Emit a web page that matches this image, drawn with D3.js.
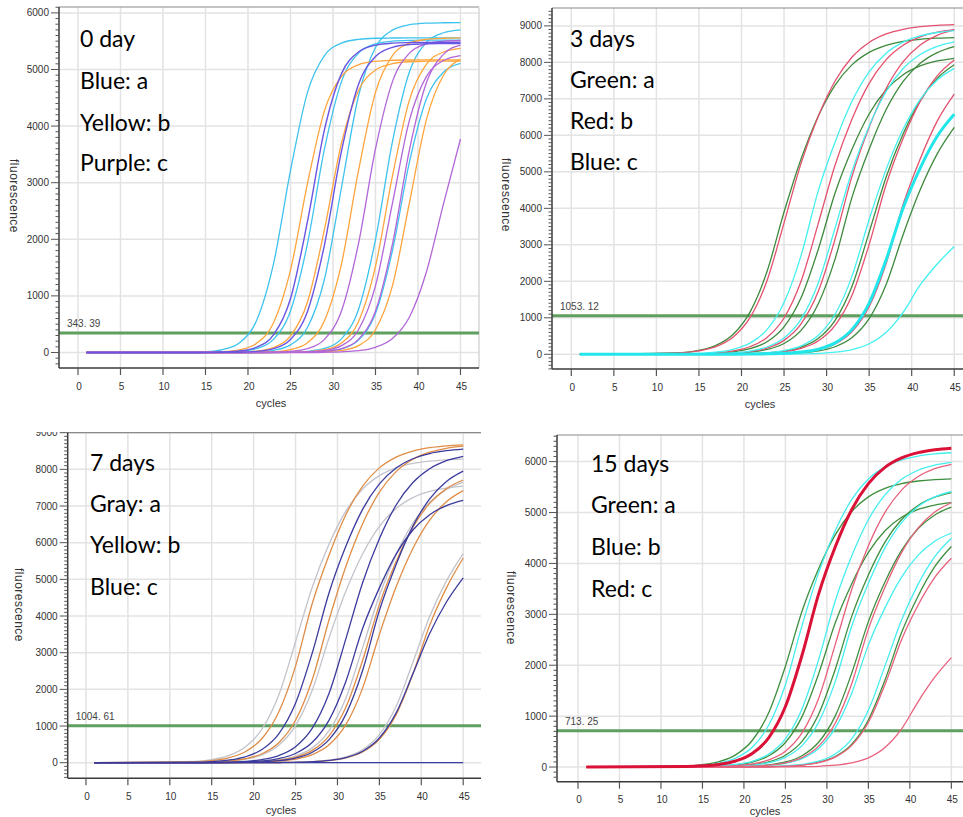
<!DOCTYPE html>
<html lang="en">
<head>
<meta charset="UTF-8">
<title>qPCR amplification curves</title>
<script src="https://d3js.org/d3.v7.min.js"></script>
<style>
  body { margin: 0; background: #fff; }
  svg { display: block; }
  .tick-label { font-family: "Liberation Sans", Arial, sans-serif; font-size: 10px; fill: #333; }
  .axis-title { font-family: "Liberation Sans", Arial, sans-serif; fill: #333; }
  .thr-label { font-family: "Liberation Sans", Arial, sans-serif; font-size: 10px; fill: #444; }
  .note { font-family: Lato, "Open Sans", sans-serif; font-size: 23px; fill: #000; }
</style>
</head>
<body>
<svg id="chart" width="963" height="817"></svg>
<script>
const cycles = [1, 13, 15, 17, 19, 21, 23, 25, 27, 29, 31, 33, 35, 37, 39, 41, 43, 45];

// ---- 0 day ----
const day0Threshold = 343.39;
const day0Blue = [
  [0,4,14,51,173,561,1565,3211,4596,5245,5466,5533,5552,5556,5558,5560,5560,5560],
  [0,0,2,6,20,68,232,734,1924,3596,4786,5288,5452,5500,5514,5518,5520,5520],
  [0,0,0,1,3,11,39,134,442,1298,2915,4532,5388,5696,5791,5819,5826,5829],
  [0,0,0,0,0,0,2,6,21,71,241,761,1994,3726,4959,5479,5649,5699],
  [0,0,0,0,0,0,0,2,5,19,64,218,688,1802,3368,4482,4952,5106]
];
const day0Yellow = [
  [0,1,4,13,47,161,522,1455,2986,4274,4877,5083,5145,5163,5168,5170,5170,5170],
  [0,0,0,2,7,25,87,292,892,2176,3700,4630,4990,5103,5137,5146,5149,5150],
  [0,0,0,0,1,4,14,51,173,561,1565,3211,4596,5245,5466,5533,5552,5558],
  [0,0,0,0,0,0,1,4,14,49,168,545,1520,3119,4464,5094,5309,5374],
  [0,0,0,0,0,0,0,1,3,10,36,122,402,1180,2650,4120,4898,5178]
];
const day0Purple = [
  [0,0,0,0,0,2,6,20,68,232,734,1924,3596,4786,5288,5452,5500,5514],
  [0,0,0,0,0,0,1,3,10,35,121,401,1176,2640,4104,4879,5159,5245],
  [0,0,0,0,0,0,0,2,6,20,68,232,732,1917,3583,4769,5268,5432],
  [0,0,0,0,0,0,0,0,0,4,12,33,92,246,628,1427,2627,3772]
];
// purple traces lying on top of blue ones (look violet)
const day0PurpleOverlap = [
  [0,0,2,8,27,93,311,950,2315,3937,4927,5310,5430,5466,5476,5479,5480,5480],
  [0,0,0,2,5,20,68,230,726,1903,3557,4734,5230,5392,5440,5455,5458,5460]
];

// ---- 3 days ----
const day3Threshold = 1053.12;
const day3Green = [
  [0,47,108,245,544,1157,2269,3898,5351,6517,7378,7938,8275,8467,8574,8632,8663,8680],
  [0,6,13,30,67,153,345,753,1547,2859,4420,5625,6585,7249,7662,7903,8038,8112],
  [0,2,5,11,25,58,132,297,655,1371,2614,4315,5622,6708,7482,7975,8267,8432],
  [0,0,1,3,7,16,37,85,193,431,931,1873,3341,4857,6043,6953,7561,7933],
  [0,0,0,1,2,4,7,18,40,91,207,458,975,1912,3285,4509,5491,6216]
];
const day3Red = [
  [0,40,92,208,465,1003,2018,3600,5232,6511,7490,8146,8546,8778,8907,8978,9016,9036],
  [0,8,17,40,91,207,461,994,2000,3568,5186,6453,7424,8074,8471,8701,8828,8898],
  [0,3,6,15,33,74,170,382,833,1711,3162,4889,6222,7284,8018,8475,8742,8891],
  [0,0,1,3,6,14,31,71,161,363,792,1628,3008,4652,5920,6931,7629,8064],
  [0,0,0,1,2,5,11,24,55,126,283,624,1306,2490,4110,5355,6389,7127]
];
const day3Blue = [
  [0,12,26,60,137,307,678,1419,2705,4465,5817,6941,7742,8252,8554,8725,8819,8870],
  [0,3,7,17,38,88,200,447,964,1940,3461,5030,6259,7201,7831,8216,8439,8563],
  [0,0,2,4,8,20,44,102,232,515,1096,2149,3692,5068,6173,6988,7518,7837],
  [0,0,0,0,0,1,2,5,11,25,58,131,288,604,1151,1900,2475,2954]
];
const day3BlueBold = [
  [0,0,0,1,2,5,12,27,61,139,313,683,1404,2594,4010,5104,5975,6577]
];

// ---- 7 days ----
const day7Threshold = 1004.61;
const day7Gray = [
  [0,37,84,191,426,919,1848,3298,4793,5964,6862,7463,7829,8042,8160,8224,8259,8278],
  [0,8,18,41,94,214,475,1011,1982,3406,4675,5693,6445,6934,7228,7396,7490,7541],
  [0,1,3,7,15,35,80,182,405,875,1759,3139,4562,5677,6531,7103,7452,7654],
  [0,0,0,0,1,3,6,13,30,70,159,354,764,1537,2741,3985,4958,5704]
];
const day7Yellow = [
  [0,25,58,133,299,660,1383,2635,4350,5667,6763,7543,8040,8334,8500,8592,8642,8669],
  [0,9,21,47,108,245,544,1157,2269,3898,5351,6517,7378,7938,8275,8467,8574,8632],
  [0,1,2,6,13,29,66,150,337,734,1510,2789,4312,5488,6425,7072,7475,7710],
  [0,0,2,4,8,19,42,97,220,488,1037,2034,3495,4798,5843,6614,7117,7419],
  [0,0,0,0,1,2,5,11,25,57,130,293,638,1311,2423,3746,4768,5582]
];
const day7Blue = [
  [0,14,31,71,161,362,789,1623,2998,4635,5900,6907,7602,8036,8289,8431,8508,8551],
  [0,3,7,16,37,86,196,436,941,1893,3377,4909,6108,7027,7642,8018,8236,8356],
  [0,2,4,10,21,49,112,252,556,1163,2217,3660,4768,5690,6346,6764,7012,7152],
  [0,1,2,5,11,24,56,127,286,630,1319,2514,4150,5407,6452,7196,7670,7951],
  [0,0,0,0,1,2,5,12,27,62,140,313,675,1358,2424,3523,4383,5043],
  [0,0,0,0,0,0,0,0,0,0,0,0,0,0,0,0,0,0]
];

// ---- 15 days ----
const day15Threshold = 713.25;
const day15Green = [
  [0,20,47,106,239,521,1072,1980,3062,3896,4562,5021,5307,5474,5568,5619,5648,5663],
  [0,4,8,19,43,98,221,482,991,1830,2830,3602,4216,4641,4906,5060,5147,5194],
  [0,2,4,9,20,45,103,232,505,1038,1917,2965,3773,4417,4862,5139,5301,5392],
  [0,1,2,4,8,19,43,99,223,487,1000,1848,2857,3636,4256,4685,4952,5108],
  [0,0,0,1,1,3,8,18,40,92,206,450,925,1708,2641,3361,3935,4332]
];
const day15Blue = [
  [0,15,33,77,175,388,825,1617,2778,3814,4644,5258,5657,5897,6034,6110,6152,6174],
  [0,4,10,22,50,113,255,555,1142,2109,3261,4150,4859,5348,5653,5831,5931,5985],
  [0,1,3,7,16,37,85,191,420,880,1678,2770,3609,4306,4803,5120,5307,5413],
  [0,0,1,3,6,14,32,73,165,364,763,1454,2400,3127,3731,4162,4436,4598],
  [0,0,0,1,2,4,10,22,51,115,257,554,1114,1987,2888,3593,4134,4496]
];
const day15Red = [
  [0,2,5,11,27,61,139,310,670,1347,2404,3494,4348,5002,5440,5707,5862,5948],
  [0,1,1,3,7,16,36,83,186,411,861,1642,2710,3531,4213,4699,5009,5192],
  [0,0,0,1,1,3,7,17,38,87,195,426,876,1618,2501,3183,3726,4102],
  [0,0,0,0,0,0,1,3,7,15,36,81,179,382,748,1286,1765,2150]
];
const day15RedBold = [
  [0,10,23,52,118,265,578,1189,2196,3396,4322,5060,5569,5887,6072,6176,6233,6264]
];

// ---- panel layout (pixels) ----
const panels = [
  {
    clip: [0, 0, 481, 413], plot: { left: 59, top: 7, right: 479, bottom: 368 },
    xDomain: [-2.235, 47.18], yDomain: [-274, 6104], yMaxTick: 6000, rightBorder: true,
    threshold: day0Threshold, thresholdText: "343. 39",
    notes: ["0 day", "Blue: a", "Yellow: b", "Purple: c"], noteX: 80, noteY: [47, 89, 131, 171],
    yTitle: [14, 196], xTitle: [271, 403],
    series: [
      { data: day0Blue, color: "#3ec3ee", width: 1.3 },
      { data: day0Yellow, color: "#ffa53d", width: 1.3 },
      { data: day0Purple, color: "#b266d8", width: 1.3 },
      { data: day0PurpleOverlap, color: "#6a55e2", width: 1.4 }
    ]
  },
  {
    clip: [483, 0, 480, 413], plot: { left: 552, top: 8, right: 975, bottom: 369 },
    xDomain: [-2.268, 47.44], yDomain: [-403, 9490], yMaxTick: 9000,
    threshold: day3Threshold, thresholdText: "1053. 12",
    notes: ["3 days", "Green: a", "Red: b", "Blue: c"], noteX: 570, noteY: [47, 88, 129, 170],
    yTitle: [506, 195], xTitle: [760, 404],
    series: [
      { data: day3Green, color: "#3d8a3d", width: 1.3 },
      { data: day3Red, color: "#e4516f", width: 1.3 },
      { data: day3Blue, color: "#44f0f0", width: 1.3 },
      { data: day3BlueBold, color: "#22e6ea", width: 3 }
    ]
  },
  {
    clip: [0, 432, 481, 385], plot: { left: 67.7, top: 432.6, right: 485, bottom: 778.3 },
    xDomain: [-2.18, 47.6], yDomain: [-425, 9002], yMaxTick: 9000,
    threshold: day7Threshold, thresholdText: "1004. 61",
    notes: ["7 days", "Gray: a", "Yellow: b", "Blue: c"], noteX: 90, noteY: [471, 512, 553, 595],
    yTitle: [19, 605], xTitle: [281, 810],
    series: [
      { data: day7Gray, color: "#c3c3cc", width: 1.3 },
      { data: day7Yellow, color: "#df8d47", width: 1.3 },
      { data: day7Blue, color: "#3b3b9e", width: 1.3 }
    ]
  },
  {
    clip: [483, 420, 480, 397], plot: { left: 557, top: 435, right: 975, bottom: 781.7 },
    xDomain: [-2.53, 47.85], yDomain: [-288, 6523], yMaxTick: 6000,
    threshold: day15Threshold, thresholdText: "713. 25",
    notes: ["15 days", "Green: a", "Blue: b", "Red: c"], noteX: 591, noteY: [472, 513, 555, 597],
    yTitle: [511, 608], xTitle: [765, 811],
    series: [
      { data: day15Green, color: "#3e8e3e", width: 1.3 },
      { data: day15Blue, color: "#44eef0", width: 1.3 },
      { data: day15Red, color: "#e8607c", width: 1.3 },
      { data: day15RedBold, color: "#da1238", width: 3 }
    ]
  }
];

const svg = d3.select("#chart");
svg.append("rect").attr("width", 963).attr("height", 817).attr("fill", "#fff");

panels.forEach((p, pi) => {
  const clipId = "panel-clip-" + pi;
  svg.append("clipPath").attr("id", clipId)
    .append("rect")
    .attr("x", p.clip[0]).attr("y", p.clip[1])
    .attr("width", p.clip[2]).attr("height", p.clip[3]);

  const g = svg.append("g").attr("clip-path", `url(#${clipId})`);
  const pl = p.plot;

  const x = d3.scaleLinear().domain(p.xDomain).range([pl.left, pl.right]);
  const y = d3.scaleLinear().domain(p.yDomain).range([pl.bottom, pl.top]);

  const xTicks = d3.range(0, 46, 5);
  const yTicks = d3.range(0, p.yMaxTick + 1, 1000);
  const yMinor = d3.range(Math.ceil(p.yDomain[0] / 100) * 100, p.yDomain[1], 100);

  // grid
  g.append("g").selectAll("line").data(xTicks).join("line")
    .attr("x1", d => x(d)).attr("x2", d => x(d))
    .attr("y1", pl.top).attr("y2", pl.bottom)
    .attr("stroke", "#e3e3e3").attr("stroke-width", 1.5);
  g.append("g").selectAll("line").data(yTicks).join("line")
    .attr("x1", pl.left).attr("x2", pl.right)
    .attr("y1", d => y(d)).attr("y2", d => y(d))
    .attr("stroke", "#e3e3e3").attr("stroke-width", 1.5);

  // frame top / right
  g.append("line").attr("x1", pl.left).attr("x2", pl.right)
    .attr("y1", pl.top).attr("y2", pl.top)
    .attr("stroke", "#8a8a8a").attr("stroke-width", 1.2);
  if (p.rightBorder) {
    g.append("line").attr("x1", pl.right).attr("x2", pl.right)
      .attr("y1", pl.top).attr("y2", pl.bottom)
      .attr("stroke", "#d6d6d6").attr("stroke-width", 1.5);
  }

  // threshold
  g.append("line")
    .attr("x1", pl.left).attr("x2", pl.right)
    .attr("y1", y(p.threshold)).attr("y2", y(p.threshold))
    .attr("stroke", "#5f9f5f").attr("stroke-width", 3);
  g.append("text").attr("class", "thr-label")
    .attr("x", pl.left + 8).attr("y", y(p.threshold) - 6)
    .text(p.thresholdText);

  // amplification curves
  const line = d3.line()
    .x((d, i) => x(cycles[i]))
    .y(d => y(d))
    .curve(d3.curveMonotoneX);
  p.series.forEach(s => {
    g.append("g").selectAll("path").data(s.data).join("path")
      .attr("d", line)
      .attr("fill", "none")
      .attr("stroke", s.color)
      .attr("stroke-width", s.width);
  });

  // y axis
  g.append("line").attr("x1", pl.left).attr("x2", pl.left)
    .attr("y1", pl.top).attr("y2", pl.bottom)
    .attr("stroke", "#3a3a3a").attr("stroke-width", 1.5);
  g.append("g").selectAll("line").data(yMinor).join("line")
    .attr("x1", d => pl.left - (d % 1000 === 0 ? 8 : 3.5)).attr("x2", pl.left)
    .attr("y1", d => y(d)).attr("y2", d => y(d))
    .attr("stroke", "#555").attr("stroke-width", 1);
  g.append("g").selectAll("text").data(yTicks).join("text")
    .attr("class", "tick-label")
    .attr("x", pl.left - 10).attr("y", d => y(d))
    .attr("text-anchor", "end").attr("dominant-baseline", "central")
    .text(d => d);

  // x axis
  g.append("line").attr("x1", pl.left).attr("x2", pl.right)
    .attr("y1", pl.bottom).attr("y2", pl.bottom)
    .attr("stroke", "#3a3a3a").attr("stroke-width", 1.5);
  g.append("g").selectAll("line").data(xTicks).join("line")
    .attr("x1", d => x(d)).attr("x2", d => x(d))
    .attr("y1", pl.bottom).attr("y2", pl.bottom + 7)
    .attr("stroke", "#555").attr("stroke-width", 1.2);
  g.append("g").selectAll("text").data(xTicks).join("text")
    .attr("class", "tick-label")
    .attr("x", d => x(d) + 1).attr("y", pl.bottom + 18)
    .attr("text-anchor", "middle").attr("dominant-baseline", "central")
    .text(d => d);

  // axis titles
  g.append("text").attr("class", "axis-title")
    .attr("transform", `translate(${p.yTitle[0]},${p.yTitle[1]}) rotate(90)`)
    .attr("text-anchor", "middle").attr("dominant-baseline", "central")
    .style("font-size", "12px").style("letter-spacing", "0.5px")
    .text("fluorescence");
  g.append("text").attr("class", "axis-title")
    .attr("x", p.xTitle[0]).attr("y", p.xTitle[1])
    .attr("text-anchor", "middle").attr("dominant-baseline", "central")
    .style("font-size", "11px")
    .text("cycles");

  // legend notes
  g.append("g").selectAll("text").data(p.notes).join("text")
    .attr("class", "note")
    .attr("x", p.noteX).attr("y", (d, i) => p.noteY[i])
    .text(d => d);
});
</script>
</body>
</html>
